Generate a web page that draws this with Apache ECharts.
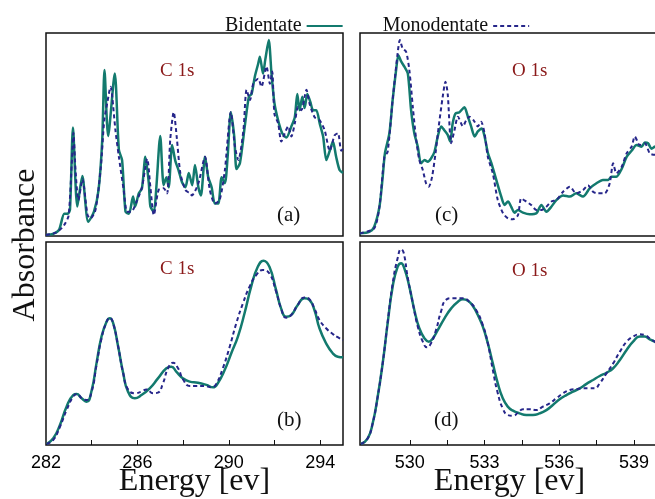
<!DOCTYPE html>
<html>
<head>
<meta charset="utf-8">
<style>
  html, body { margin: 0; padding: 0; background: #fff; }
  #chart { width: 655px; height: 499px; }
</style>
<script src="https://cdn.jsdelivr.net/npm/echarts@6.0.0/dist/echarts.min.js"></script>
</head>
<body>
<div id="chart"></div>
<script>
const SERIF = 'Liberation Serif';
const SANS = 'Liberation Sans';
const BI_COLOR = '#137a6e';
const MONO_COLOR = '#26268a';
const EDGE_COLOR = '#8b1a1a';

// x ticks / labels
const cTicks = [284, 286, 288, 290, 292, 294];
const cLabels = [282, 286, 290, 294];
const oTicks = [530, 531.5, 533, 534.5, 536, 537.5, 539];
const oLabels = [530, 533, 536, 539];

// (a) C 1s, experiment-like spectra  [energy, absorbance]
const aBidentate = [
  [282.0, 0.5], [282.3, 1], [282.57, 3], [282.8, 11], [282.95, 11], [283.05, 13], [283.18, 53.5],
  [283.37, 14.5], [283.59, 29.5], [283.85, 7], [284.1, 12], [284.3, 22.7], [284.46, 47], [284.56, 81.8],
  [284.72, 49.3], [285.01, 80], [285.19, 42.4], [285.33, 37.4], [285.48, 12], [285.63, 11], [285.81, 19.4],
  [285.9, 14.5], [286.06, 21], [286.2, 23.5], [286.35, 39], [286.5, 26], [286.57, 14.5], [286.72, 12],
  [286.83, 24], [287.0, 49.3], [287.15, 25], [287.27, 29], [287.37, 24], [287.52, 44.8], [287.66, 37],
  [287.8, 32.5], [287.95, 26.6], [288.1, 24], [288.25, 31], [288.4, 25], [288.52, 35], [288.67, 24],
  [288.78, 20], [288.96, 39], [289.1, 29], [289.25, 24], [289.39, 16], [289.54, 16], [289.69, 29],
  [289.83, 26], [289.95, 39], [290.09, 61], [290.24, 49], [290.34, 33], [290.49, 36], [290.7, 54],
  [290.88, 68.6], [291.0, 70], [291.14, 78.5], [291.29, 85], [291.36, 88.3], [291.5, 80], [291.6, 87],
  [291.75, 96.5], [291.87, 80], [292.0, 65.4], [292.16, 57], [292.34, 50.6], [292.52, 48.5], [292.74, 54],
  [292.89, 58.5], [293.0, 70], [293.1, 62], [293.22, 68.6], [293.32, 63], [293.44, 70], [293.57, 66],
  [293.69, 62], [293.83, 62], [293.98, 55.5], [294.13, 49], [294.27, 37.4], [294.42, 42], [294.56, 46.5],
  [294.7, 39], [294.85, 32.5], [295.0, 31]
];
const aMonodentate = [
  [282.0, 0.5], [282.4, 1.5], [282.7, 4], [282.85, 6.4], [282.99, 10], [283.13, 36], [283.2, 50.7],
  [283.3, 31], [283.42, 17.7], [283.6, 28], [283.67, 23.7], [283.82, 10.3], [283.95, 8.7], [284.17, 13],
  [284.4, 34], [284.55, 57], [284.68, 65.4], [284.83, 73.5], [284.9, 68.6], [285.04, 52], [285.19, 39],
  [285.4, 22.7], [285.55, 12], [285.73, 12], [285.99, 17.7], [286.2, 24], [286.43, 38], [286.57, 24],
  [286.72, 10.3], [286.93, 22.7], [287.15, 23.5], [287.3, 21], [287.44, 47.8], [287.59, 61], [287.73, 47.8],
  [287.88, 31], [288.1, 22.7], [288.3, 21], [288.38, 20], [288.67, 26], [288.96, 39], [289.17, 22.7],
  [289.39, 16], [289.6, 17.7], [289.83, 32.5], [290.09, 61], [290.27, 44], [290.42, 37.4], [290.64, 52],
  [290.78, 72], [290.93, 67], [291.07, 75], [291.29, 77.5], [291.43, 73.5], [291.65, 83.5], [291.8, 75],
  [291.9, 81], [292.0, 60], [292.16, 55.5], [292.3, 46.5], [292.45, 50.6], [292.6, 54], [292.74, 49],
  [292.89, 55.5], [293.03, 63.5], [293.18, 62], [293.32, 68.6], [293.4, 72], [293.54, 65], [293.76, 58.5],
  [293.98, 57], [294.2, 52], [294.42, 42], [294.63, 49.5], [294.78, 50.6], [294.92, 42], [295.0, 43]
];

// (c) O 1s
const cBidentate = [
  [528.0, 1.3], [528.37, 2], [528.57, 4.6], [528.78, 14.4], [528.91, 29], [529.0, 40.7], [529.18, 50.6],
  [529.31, 67], [529.45, 81.8], [529.54, 89], [529.65, 86], [529.78, 83.4], [529.92, 80], [530.05, 62],
  [530.18, 50.6], [530.32, 44], [530.45, 35.8], [530.59, 37.4], [530.72, 36.6], [530.85, 38.2], [530.99, 41.5],
  [531.12, 49], [531.26, 54], [531.39, 52], [531.52, 49.8], [531.62, 46.5], [531.72, 55.5], [531.83, 60.3],
  [531.99, 61], [532.19, 63.4], [532.33, 58.8], [532.46, 54], [532.6, 49], [532.73, 51.5], [532.89, 53],
  [533.0, 49], [533.13, 41], [533.27, 36], [533.47, 27.6], [533.67, 19.4], [533.8, 15.3], [533.94, 17],
  [534.07, 14.4], [534.2, 11.5], [534.34, 12.8], [534.54, 11.5], [534.81, 10.7], [535.08, 11.2], [535.28, 15.3],
  [535.48, 12], [535.68, 14.4], [535.88, 17.7], [536.15, 20], [536.42, 19.4], [536.68, 21], [536.95, 19.4],
  [537.22, 23.5], [537.49, 26], [537.75, 27.6], [537.96, 27.6], [538.09, 29.2], [538.29, 29.2], [538.5, 33],
  [538.7, 39], [538.9, 42], [539.1, 44.8], [539.3, 44], [539.43, 46], [539.56, 45.7], [539.7, 43],
  [539.83, 44], [540.0, 45]
];
const cMonodentate = [
  [528.0, 1.3], [528.57, 3.8], [528.78, 14.4], [528.98, 39], [529.11, 41.5], [529.31, 67], [529.51, 90],
  [529.6, 96.5], [529.71, 92.4], [529.85, 90.8], [529.98, 81.8], [530.12, 63.5], [530.25, 48], [530.38, 37.4],
  [530.52, 32.5], [530.65, 26], [530.76, 24.3], [530.89, 29], [531.03, 40.7], [531.16, 54], [531.32, 68.6],
  [531.43, 76], [531.52, 70], [531.66, 45.7], [531.79, 52], [531.93, 58.8], [532.13, 54], [532.26, 57],
  [532.39, 58.8], [532.56, 57], [532.73, 54], [532.86, 56.3], [533.0, 50.6], [533.13, 39], [533.33, 30.9],
  [533.53, 17.7], [533.74, 11.2], [533.94, 8.7], [534.14, 8.2], [534.34, 10.3], [534.47, 18.5], [534.67, 17],
  [534.87, 15.3], [535.08, 12.8], [535.28, 12.8], [535.48, 14.4], [535.68, 17], [535.88, 17.7], [536.15, 21.8],
  [536.42, 24.3], [536.68, 21], [536.95, 22.6], [537.15, 25], [537.35, 21.8], [537.55, 21], [537.82, 21],
  [538.02, 25.9], [538.16, 35.8], [538.29, 30.9], [538.5, 34], [538.7, 40.7], [538.9, 44], [539.03, 49],
  [539.23, 44.8], [539.43, 45.7], [539.63, 40.7], [539.83, 40], [540.0, 41]
];

// (b) C 1s, calculated
const bBidentate = [
  [282.03, 0.5], [282.32, 3.3], [282.61, 9.9], [282.9, 18.9], [283.19, 24.6], [283.34, 25.1], [283.56, 23],
  [283.78, 21.3], [284.0, 27], [284.21, 40.2], [284.43, 53.4], [284.65, 60.7], [284.79, 62.4], [284.94, 60],
  [285.16, 48.4], [285.38, 35.3], [285.59, 26.3], [285.89, 23], [286.18, 24.6], [286.54, 27.9], [286.9, 32.8],
  [287.27, 37.8], [287.49, 38.6], [287.71, 36], [288.0, 32.8], [288.29, 31.2], [288.65, 30.7], [289.02, 29.6],
  [289.31, 28.4], [289.52, 30.4], [289.82, 36.9], [290.11, 45.2], [290.4, 53.4], [290.69, 64.9], [290.98, 78],
  [291.27, 87.8], [291.52, 90.8], [291.78, 87.8], [292.07, 76.4], [292.29, 67.3], [292.51, 63.2], [292.73, 64],
  [293.02, 69], [293.31, 72.3], [293.53, 71.5], [293.75, 66.5], [293.97, 57.5], [294.26, 50.1], [294.55, 45.2],
  [294.77, 43.5], [295.0, 43.2]
];
const bMonodentate = [
  [282.03, 0.5], [282.32, 2.5], [282.61, 9], [282.9, 17.2], [283.19, 23.8], [283.34, 25.1], [283.63, 22.5],
  [283.78, 22.2], [284.0, 26.3], [284.21, 39.4], [284.43, 52.5], [284.65, 60.7], [284.79, 62.7], [284.94, 60],
  [285.16, 48.4], [285.38, 35.3], [285.59, 27.4], [285.89, 25.5], [286.18, 26.3], [286.4, 27.4], [286.69, 25.5],
  [286.9, 25.8], [287.12, 30.4], [287.34, 37.8], [287.56, 40.5], [287.78, 37.8], [288.0, 32.3], [288.29, 29.1],
  [288.58, 29.1], [288.94, 29.1], [289.24, 28.4], [289.45, 30.1], [289.74, 37.8], [290.04, 48.4], [290.33, 60],
  [290.62, 69.8], [290.91, 78], [291.2, 83.7], [291.49, 86.2], [291.78, 84.5], [292.07, 75.6], [292.29, 67.3],
  [292.51, 62.7], [292.73, 64], [293.02, 69], [293.31, 72.7], [293.53, 71.8], [293.75, 67.3], [293.97, 61.6],
  [294.26, 57.5], [294.55, 54.7], [294.77, 53.1], [295.0, 51.7]
];

// (d) O 1s, calculated
const dBidentate = [
  [528.04, 0.5], [528.31, 3.3], [528.51, 10.7], [528.71, 23.8], [528.91, 40.2], [529.11, 60], [529.31, 78],
  [529.51, 87.8], [529.65, 89.5], [529.78, 87], [529.98, 78], [530.18, 66.5], [530.38, 57.5], [530.59, 52.5],
  [530.76, 50.9], [530.92, 52.5], [531.12, 56.6], [531.39, 62.4], [531.66, 67.3], [531.93, 70.6], [532.13, 71.8],
  [532.33, 71.1], [532.53, 68.5], [532.73, 64], [532.93, 58.3], [533.13, 50.1], [533.33, 40.2], [533.53, 30.4],
  [533.73, 23], [533.93, 18.9], [534.14, 16.9], [534.4, 15.6], [534.67, 14.8], [534.94, 14.8], [535.21, 15.6],
  [535.48, 17.2], [535.74, 19.7], [536.01, 22.5], [536.28, 24.6], [536.55, 26.3], [536.82, 27.9], [537.09, 30.1],
  [537.35, 32], [537.62, 34], [537.89, 35.6], [538.16, 37.8], [538.43, 41.9], [538.7, 46.8], [538.96, 50.9],
  [539.23, 53.4], [539.43, 53.4], [539.63, 52], [539.83, 50.9], [540.0, 49.5]
];
const dMonodentate = [
  [528.04, 0.5], [528.31, 3.3], [528.51, 10.7], [528.71, 23.8], [528.91, 40.2], [529.11, 60.5], [529.31, 79.5],
  [529.51, 92], [529.65, 96.4], [529.75, 94.8], [529.91, 82.9], [530.12, 69.8], [530.32, 58.3], [530.52, 50.9],
  [530.69, 48.1], [530.85, 50.1], [531.05, 56.6], [531.25, 65.7], [531.45, 71.5], [531.72, 72.3], [532.13, 72.3],
  [532.39, 70.6], [532.66, 66.5], [532.93, 59.1], [533.13, 50.1], [533.33, 37], [533.53, 25.5], [533.73, 18],
  [533.93, 14.8], [534.14, 14.4], [534.34, 15.9], [534.54, 17.6], [534.81, 17.6], [535.08, 17.2], [535.34, 18.9],
  [535.61, 20.5], [535.88, 23], [536.15, 25.5], [536.42, 27.1], [536.68, 27.6], [536.95, 27.9], [537.22, 27.9],
  [537.42, 27.9], [537.62, 30.4], [537.89, 35.3], [538.16, 40.2], [538.43, 46], [538.7, 50.9], [538.96, 53.4],
  [539.23, 54.5], [539.43, 54.2], [539.63, 52.5], [539.83, 50.9], [540.0, 49]
];

const panels = [
  { grid: { left: 46, top: 33, width: 297, height: 203 }, range: [282, 295], ticks: null, bi: aBidentate, mono: aMonodentate, smooth: 0.25 },
  { grid: { left: 360, top: 33, width: 299, height: 203 }, range: [528, 540], ticks: null, bi: cBidentate, mono: cMonodentate, smooth: 0.25 },
  { grid: { left: 46, top: 242, width: 297, height: 203 }, range: [282, 295], ticks: [cTicks, cLabels], bi: bBidentate, mono: bMonodentate, smooth: 0.5 },
  { grid: { left: 360, top: 242, width: 299, height: 203 }, range: [528, 540], ticks: [oTicks, oLabels], bi: dBidentate, mono: dMonodentate, smooth: 0.5 }
];

const chart = echarts.init(document.getElementById('chart'), null, { renderer: 'canvas' });

const grids = panels.map(p => ({
  ...p.grid,
  outerBoundsMode: 'none',
  containLabel: false,
  show: true,
  borderColor: '#111',
  borderWidth: 1.5,
  backgroundColor: 'transparent'
}));

const xAxes = panels.map((p, i) => ({
  type: 'value',
  gridIndex: i,
  min: p.range[0],
  max: p.range[1],
  axisLine: { show: false },
  splitLine: { show: false },
  axisTick: p.ticks ? {
    show: true, inside: true, length: 5,
    customValues: p.ticks[0],
    lineStyle: { color: '#111', width: 1 }
  } : { show: false },
  axisLabel: p.ticks ? {
    show: true,
    customValues: p.ticks[1],
    color: '#000',
    fontFamily: SANS,
    fontSize: 18,
    margin: 9
  } : { show: false }
}));

const yAxes = panels.map((p, i) => ({
  type: 'value', gridIndex: i, min: 0, max: 100, show: false
}));

const series = [];
panels.forEach((p, i) => {
  series.push({
    name: 'Bidentate', type: 'line', xAxisIndex: i, yAxisIndex: i,
    data: p.bi, symbol: 'none', smooth: p.smooth,
    lineStyle: { color: BI_COLOR, width: 2.5 },
    itemStyle: { color: BI_COLOR }
  });
  series.push({
    name: 'Monodentate', type: 'line', xAxisIndex: i, yAxisIndex: i,
    data: p.mono, symbol: 'none', smooth: p.smooth,
    lineStyle: { color: MONO_COLOR, width: 2, type: [4, 3] },
    itemStyle: { color: MONO_COLOR }
  });
});

function label(text, x, y, size, color, extra) {
  return Object.assign({
    type: 'text', x, y, silent: true,
    style: { text, fill: color, font: `${size}px "${SERIF}"`, align: 'left', verticalAlign: 'middle' }
  }, extra || {});
}

const graphics = [
  label('C 1s', 160, 71, 19, EDGE_COLOR),
  label('O 1s', 512, 71, 19, EDGE_COLOR),
  label('C 1s', 160, 269.5, 19, EDGE_COLOR),
  label('O 1s', 512, 271, 19, EDGE_COLOR),
  label('(a)', 277, 215, 21, '#111'),
  label('(c)', 435, 215, 21, '#111'),
  label('(b)', 277, 420, 21, '#111'),
  label('(d)', 434, 420, 21, '#111'),
  { type: 'text', x: 194.5, y: 482, silent: true,
    style: { text: 'Energy [ev]', fill: '#111', font: `32px "${SERIF}"`, align: 'center', verticalAlign: 'middle' } },
  { type: 'text', x: 509.5, y: 482, silent: true,
    style: { text: 'Energy [ev]', fill: '#111', font: `32px "${SERIF}"`, align: 'center', verticalAlign: 'middle' } },
  { type: 'text', x: 26, y: 245, rotation: Math.PI / 2, silent: true,
    style: { text: 'Absorbance', fill: '#111', font: `32px "${SERIF}"`, align: 'center', verticalAlign: 'middle' } }
];

chart.setOption({
  animation: false,
  backgroundColor: '#fff',
  legend: {
    data: ['Bidentate', 'Monodentate'],
    left: 220,
    top: 11,
    align: 'right',
    itemWidth: 36,
    itemHeight: 12,
    itemGap: 39,
    itemStyle: { opacity: 0 },
    textStyle: { fontFamily: SERIF, fontSize: 20, color: '#111' }
  },
  grid: grids,
  xAxis: xAxes,
  yAxis: yAxes,
  series,
  graphic: graphics
});

window.addEventListener('resize', () => chart.resize());
</script>
</body>
</html>
